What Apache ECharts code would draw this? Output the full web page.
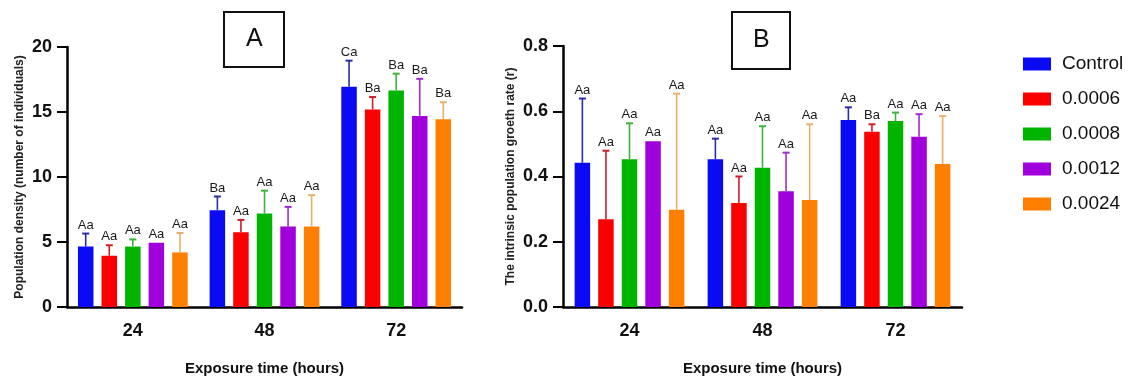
<!DOCTYPE html>
<html>
<head>
<meta charset="utf-8">
<script src="https://cdn.jsdelivr.net/npm/echarts@6/dist/echarts.min.js"></script>
<style>
    html, body { margin: 0; padding: 0; background: #fff; }
    #cn { width: 1132px; height: 381px; }
</style>
</head>
<body>
<div id="cn"></div>
<script>
'use strict';

const categories = ['24', '48', '72'];
const groups = ['Control', '0.0006', '0.0008', '0.0012', '0.0024'];
const colors = ['#0a0af5', '#fa0000', '#00b400', '#a000dc', '#ff8000'];
const errColors = ['#2c2ca8', '#d01c28', '#3cb43c', '#a02cd0', '#e6b06a'];

// panel A: population density (mean, upper SD)
const densityMean = [
    [4.65, 7.45, 16.95],
    [3.95, 5.75, 15.2],
    [4.65, 7.2, 16.65],
    [4.95, 6.2, 14.7],
    [4.2, 6.2, 14.45]
];
const densityErr = [
    [1.0, 1.05, 2.0],
    [0.8, 0.95, 0.95],
    [0.55, 1.75, 1.3],
    [0, 1.5, 2.85],
    [1.5, 2.4, 1.3]
];
const densityLetters = [
    ['Aa', 'Ba', 'Ca'],
    ['Aa', 'Aa', 'Ba'],
    ['Aa', 'Aa', 'Ba'],
    ['Aa', 'Aa', 'Ba'],
    ['Aa', 'Aa', 'Ba']
];

// panel B: intrinsic growth rate (mean, upper SD)
const rateMean = [
    [0.442, 0.453, 0.573],
    [0.269, 0.319, 0.537],
    [0.453, 0.427, 0.57],
    [0.508, 0.355, 0.522],
    [0.298, 0.328, 0.438]
];
const rateErr = [
    [0.197, 0.063, 0.039],
    [0.21, 0.081, 0.023],
    [0.11, 0.127, 0.026],
    [0, 0.118, 0.069],
    [0.356, 0.232, 0.147]
];
const rateLetters = [
    ['Aa', 'Aa', 'Aa'],
    ['Aa', 'Aa', 'Ba'],
    ['Aa', 'Aa', 'Aa'],
    ['Aa', 'Aa', 'Aa'],
    ['Aa', 'Aa', 'Aa']
];

const BAR_W = 15.5;
const BAR_GAP = 0.52;
const PITCH = BAR_W * (1 + BAR_GAP);
const FONT = '"Liberation Sans", Arial, sans-serif';

const buildErrItems = (means, errs, letters) => {
    let items = [];
    for (let g = 0; g < groups.length; g++) {
        for (let c = 0; c < categories.length; c++) {
            items.push({ c: c, g: g, mean: means[g][c], top: means[g][c] + errs[g][c], txt: letters[g][c] });
        }
    }
    return items;
};

const errSeries = (items, idx) => ({
    type: 'custom',
    xAxisIndex: idx,
    yAxisIndex: idx,
    z: 5,
    data: items.map(d => [d.c, d.mean, d.top]),
    encode: { x: 0, y: [1, 2] },
    renderItem: (params, api) => {
        const d = items[params.dataIndex];
        const base = api.coord([d.c, d.mean]);
        const top = api.coord([d.c, d.top]);
        const x = base[0] + (d.g - 2) * PITCH;
        const col = errColors[d.g];
        let children = [];
        if (d.top > d.mean) {
            children.push({
                type: 'line',
                shape: { x1: x, y1: base[1], x2: x, y2: top[1] },
                style: { stroke: col, lineWidth: 1.6 }
            });
            children.push({
                type: 'line',
                shape: { x1: x - 3.5, y1: top[1], x2: x + 3.5, y2: top[1] },
                style: { stroke: col, lineWidth: 2 }
            });
        }
        children.push({
            type: 'text',
            style: {
                x: x,
                y: top[1] - 2,
                text: d.txt,
                fill: '#1a1a1a',
                font: '13px ' + FONT,
                textAlign: 'center',
                textVerticalAlign: 'bottom'
            }
        });
        return { type: 'group', children: children };
    }
});

const barSeries = (means, idx) => groups.map((name, g) => ({
    name: name,
    type: 'bar',
    xAxisIndex: idx,
    yAxisIndex: idx,
    barWidth: BAR_W,
    barGap: (BAR_GAP * 100) + '%',
    data: means[g],
    itemStyle: { color: colors[g] }
}));

const xAxisBase = (idx) => ({
    type: 'category',
    gridIndex: idx,
    data: categories,
    name: 'Exposure time (hours)',
    nameLocation: 'middle',
    nameGap: 54,
    nameTextStyle: { fontFamily: FONT, fontWeight: 'bold', fontSize: 15, color: '#111' },
    axisLine: { lineStyle: { color: '#000', width: 2.5 } },
    axisTick: { alignWithLabel: true, length: 10, lineStyle: { color: '#000', width: 2 } },
    axisLabel: { margin: 15, fontFamily: FONT, fontWeight: 'bold', fontSize: 18, color: '#111' }
});

const yAxisBase = (idx, opts) => Object.assign({
    type: 'value',
    gridIndex: idx,
    min: 0,
    nameLocation: 'middle',
    nameRotate: 90,
    nameTextStyle: { fontFamily: FONT, fontWeight: 'bold', fontSize: 12, color: '#222' },
    splitLine: { show: false },
    axisLine: { show: true, lineStyle: { color: '#000', width: 2.5 } },
    axisTick: { show: true, length: 10, lineStyle: { color: '#000', width: 2 } },
    axisLabel: { margin: 15, fontFamily: FONT, fontWeight: 'bold', fontSize: 18, color: '#111' }
}, opts);

const chart = echarts.init(document.getElementById('cn'));

const option = {
    animation: false,
    backgroundColor: '#fff',
    title: [{
            text: 'A',
            left: 224,
            top: 12,
            padding: [15, 22],
            borderWidth: 2,
            borderColor: '#111',
            textStyle: { fontFamily: FONT, fontWeight: 'normal', fontSize: 25, lineHeight: 25, color: '#111' }
        },
        {
            text: 'B',
            left: 732,
            top: 12,
            padding: [16, 21],
            borderWidth: 2,
            borderColor: '#111',
            textStyle: { fontFamily: FONT, fontWeight: 'normal', fontSize: 25, lineHeight: 25, color: '#111' }
        }
    ],
    legend: {
        data: groups,
        orient: 'vertical',
        left: 1018,
        top: 49,
        icon: 'rect',
        itemWidth: 28,
        itemHeight: 13,
        itemGap: 15,
        textStyle: { fontFamily: FONT, fontSize: 19, lineHeight: 20, color: '#111', padding: [0, 0, 0, 6] }
    },
    grid: [
        { left: 67, top: 47, width: 395, height: 260 },
        { left: 563, top: 46, width: 399, height: 261 }
    ],
    xAxis: [xAxisBase(0), xAxisBase(1)],
    yAxis: [
        yAxisBase(0, {
            max: 20,
            interval: 5,
            name: 'Population density (number of individuals)',
            nameGap: 41
        }),
        yAxisBase(1, {
            max: 0.8,
            interval: 0.2,
            name: 'The intrinsic population groeth rate (r)',
            nameGap: 46,
            axisLabel: {
                margin: 15, fontFamily: FONT, fontWeight: 'bold', fontSize: 18, color: '#111',
                formatter: v => v.toFixed(1)
            }
        })
    ],
    series: [
        ...barSeries(densityMean, 0),
        ...barSeries(rateMean, 1),
        errSeries(buildErrItems(densityMean, densityErr, densityLetters), 0),
        errSeries(buildErrItems(rateMean, rateErr, rateLetters), 1)
    ]
};

chart.setOption(option);
</script>
</body>
</html>
